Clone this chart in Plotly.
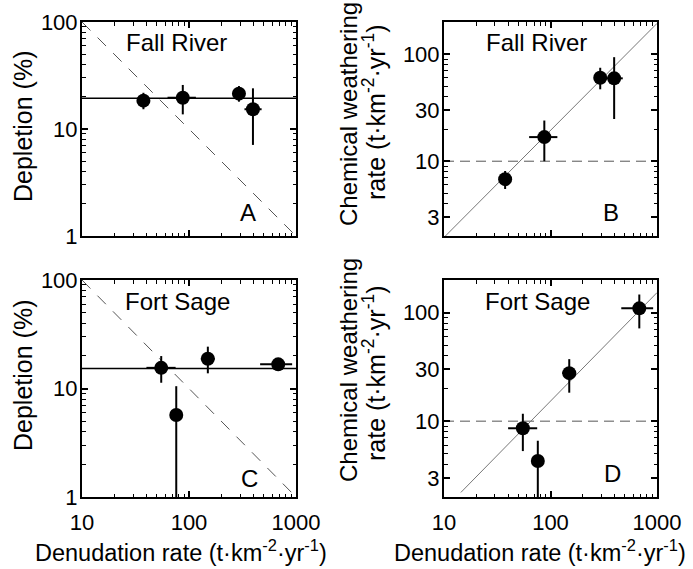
import plotly.graph_objects as go

# ---------------- data ----------------
# Fall River
fr_denud = [37.5, 87.5, 293, 396]
fr_denud_lo = [37.5, 63, 293, 330]
fr_denud_hi = [37.5, 116, 293, 477]
fr_depl = [18.4, 19.6, 21.4, 15.3]
fr_depl_lo = [15.3, 13.7, 18.0, 7.1]
fr_depl_hi = [21.8, 25.8, 25.2, 24.0]
fr_chem = [6.8, 16.8, 60.3, 59.5]
fr_chem_lo = [5.5, 10.0, 47.0, 24.8]
fr_chem_hi = [8.1, 24.0, 74.7, 93.8]
fr_mean_depl = 19.4

# Fort Sage
fs_denud = [55, 76, 150, 682]
fs_denud_lo = [40, 76, 129, 462]
fs_denud_hi = [75, 76, 174, 920]
fs_depl = [15.5, 5.7, 18.8, 16.7]
fs_depl_lo = [11.3, 0.5, 13.8, 14.5]
fs_depl_hi = [19.9, 10.5, 24.3, 18.5]
fs_chem = [8.6, 4.3, 27.7, 109.6]
fs_chem_lo = [5.3, 1.0, 18.3, 71.6]
fs_chem_hi = [11.7, 6.6, 37.3, 147.0]
fs_mean_depl = 15.3

chem_threshold = 10          # t km-2 yr-1
line_denud = [10, 1000]      # span of reference lines
fs_fit_denud = [14.4, 1000]

x_ticks = [10, 100, 1000]
depl_ticks = [1, 10, 100]
chem_ticks = [3, 10, 30, 100]

FONT = "Liberation Sans, Arial, Helvetica, sans-serif"
W, H = 693, 569


def px(x):
    return x / W


def py(y):
    return 1 - y / H


def plus(v, hi):
    return [h - a for a, h in zip(v, hi)]


def minus(v, lo):
    return [a - l for a, l in zip(v, lo)]


fig = go.Figure()

dash_col = "#555555"
fit_col = "#777777"


def points(x, xlo, xhi, y, ylo, yhi, xa, ya):
    fig.add_trace(go.Scatter(
        x=x, y=y, mode="markers", xaxis=xa, yaxis=ya,
        marker=dict(size=14, color="black"),
        error_x=dict(type="data", symmetric=False, array=plus(x, xhi),
                     arrayminus=minus(x, xlo), width=0, thickness=2, color="black"),
        error_y=dict(type="data", symmetric=False, array=plus(y, yhi),
                     arrayminus=minus(y, ylo), width=0, thickness=2, color="black"),
        cliponaxis=True, showlegend=False))


def line(x, y, xa, ya, color, width, dash="solid"):
    fig.add_trace(go.Scatter(x=x, y=y, mode="lines", xaxis=xa, yaxis=ya,
                             line=dict(color=color, width=width, dash=dash),
                             showlegend=False, hoverinfo="skip"))


thr_depl = [100 * chem_threshold / d for d in line_denud]

# Panel A
line(line_denud, thr_depl, "x", "y", dash_col, 1, "12px,10px")
line(line_denud, [fr_mean_depl] * 2, "x", "y", "black", 1.6)
points(fr_denud, fr_denud_lo, fr_denud_hi, fr_depl, fr_depl_lo, fr_depl_hi, "x", "y")

# Panel B
line(line_denud, [chem_threshold] * 2, "x2", "y2", dash_col, 1, "10px,6px")
line(line_denud, [fr_mean_depl / 100 * d for d in line_denud], "x2", "y2", fit_col, 1)
points(fr_denud, fr_denud_lo, fr_denud_hi, fr_chem, fr_chem_lo, fr_chem_hi, "x2", "y2")

# Panel C
line(line_denud, thr_depl, "x3", "y3", dash_col, 1, "12px,10px")
line(line_denud, [fs_mean_depl] * 2, "x3", "y3", "black", 1.6)
points(fs_denud, fs_denud_lo, fs_denud_hi, fs_depl, fs_depl_lo, fs_depl_hi, "x3", "y3")

# Panel D
line(line_denud, [chem_threshold] * 2, "x4", "y4", dash_col, 1, "10px,6px")
line(fs_fit_denud, [fs_mean_depl / 100 * d for d in fs_fit_denud], "x4", "y4", fit_col, 1)
points(fs_denud, fs_denud_lo, fs_denud_hi, fs_chem, fs_chem_lo, fs_chem_hi, "x4", "y4")

minor_vals = [k * 10 ** e for e in range(-1, 4) for k in range(2, 10)]


def axis(domain, rng, tickvals, showlabels, anchor, standoff):
    return dict(
        type="log", domain=domain, range=rng, anchor=anchor,
        tickmode="array", tickvals=tickvals, ticktext=[str(t) for t in tickvals],
        showticklabels=showlabels, ticks="inside", ticklen=6, tickwidth=1.5,
        tickcolor="black", showline=True, linecolor="black", linewidth=2,
        mirror="allticks", showgrid=False, zeroline=False, automargin=False,
        tickfont=dict(family=FONT, size=22, color="black"),
        ticklabelstandoff=standoff,
        minor=dict(ticks="inside", ticklen=3.5, tickwidth=1.2, tickcolor="black",
                   tickvals=minor_vals, showgrid=False),
    )


xl = [px(82), px(296)]
xr = [px(444), px(657)]
yt = [py(236), py(22)]
yb = [py(497), py(280)]

chem_rng = [0.30103, 2.30103]
XS, YS = 5, -2

fig.update_layout(
    width=W, height=H, margin=dict(l=0, r=0, t=0, b=0, pad=0, autoexpand=False),
    paper_bgcolor="white", plot_bgcolor="white", showlegend=False,
    font=dict(family=FONT, color="black"),
    xaxis=axis(xl, [1, 3], x_ticks, False, "y", XS),
    yaxis=axis(yt, [0, 2], depl_ticks, True, "x", YS),
    xaxis2=axis(xr, [1, 3], x_ticks, False, "y2", XS),
    yaxis2=axis(yt, chem_rng, chem_ticks, True, "x2", YS),
    xaxis3=axis(xl, [1, 3], x_ticks, True, "y3", XS),
    yaxis3=axis(yb, [0, 2], depl_ticks, True, "x3", YS),
    xaxis4=axis(xr, [1, 3], x_ticks, True, "y4", XS),
    yaxis4=axis(yb, chem_rng, chem_ticks, True, "x4", YS),
)

ann = []


def text(t, x, y, size=24, angle=0):
    ann.append(dict(text=t, x=px(x), y=py(y), xref="paper", yref="paper",
                    showarrow=False, textangle=angle, xanchor="center", yanchor="middle",
                    font=dict(family=FONT, size=size, color="black")))


text("Fall River", 176, 42)
text("Fall River", 536, 42)
text("Fort Sage", 177, 301)
text("Fort Sage", 537, 302)
text("A", 248, 212)
text("B", 611, 212)
text("C", 249, 478)
text("D", 612, 473)
unit = "(t·km<sup>-2</sup>·yr<sup>-1</sup>)"
text("Depletion (%)", 23, 127, 25, -90)
text("Depletion (%)", 23, 376, 25, -90)
text("Chemical weathering", 348, 114, 24, -90)
text("rate " + unit, 374, 112, 25, -90)
text("Chemical weathering", 348, 370, 24, -90)
text("rate " + unit, 374, 373, 25, -90)
text("Denudation rate " + unit, 181, 551, 23.5)
text("Denudation rate " + unit, 540, 551, 23.5)

fig.update_layout(annotations=ann)

fig.write_html("out.html",
               config={"displayModeBar": False},
               post_script="document.body.style.margin='0px';document.body.style.overflow='hidden';")
